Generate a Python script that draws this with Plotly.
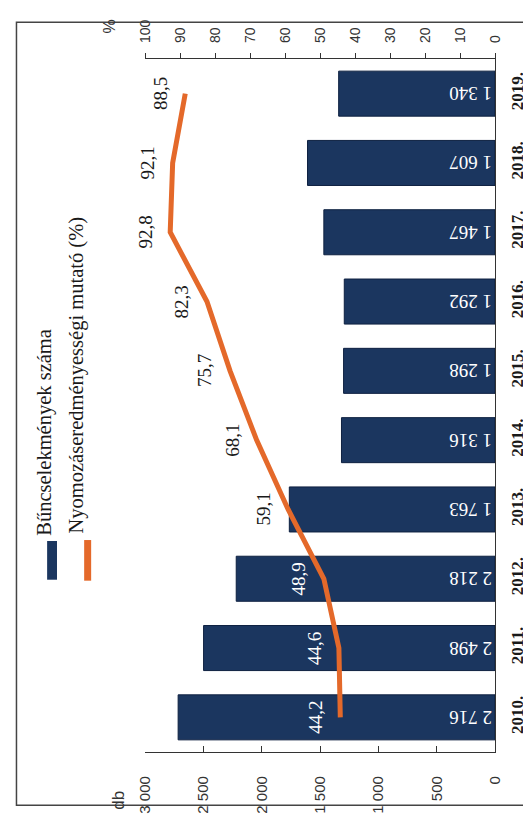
import plotly.graph_objects as go

# data read from the (rotated) scanned chart
years = ["2010.", "2011.", "2012.", "2013.", "2014.", "2015.", "2016.", "2017.", "2018.", "2019."]
crimes = [2716, 2498, 2218, 1763, 1316, 1298, 1292, 1467, 1607, 1340]
clearance = [44.2, 44.6, 48.9, 59.1, 68.1, 75.7, 82.3, 92.8, 92.1, 88.5]

db_ticks = [0, 500, 1000, 1500, 2000, 2500, 3000]
pct_ticks = [0, 10, 20, 30, 40, 50, 60, 70, 80, 90, 100]

NAVY = "#1b365f"
ORANGE = "#e4692a"
INK = "#1a1a1a"
SERIF = "Liberation Serif, Times New Roman, serif"
SANS = "Liberation Sans, Arial, sans-serif"

W, H = 531, 818
OFF = 8  # page body margin shifts the figure by 8px
L, R, T, B = 145 - OFF, 499 - OFF, 42 - OFF, 758 - OFF  # plot area in figure pixels


def px(x):
    return (x - OFF - L) / (R - L)


def py(y):
    return (B - (y - OFF)) / (B - T)


def fmt(v):
    return f"{v:,}".replace(",", "\u00a0")


fig = go.Figure()

fig.add_trace(go.Bar(
    y=years, x=crimes, orientation="h",
    marker=dict(color=NAVY, line=dict(color="#0e2040", width=1)),
    text=[fmt(v) for v in crimes],
    textposition="inside", insidetextanchor="start", textangle=180,
    textfont=dict(family=SERIF, size=19, color="white"),
    name="Bűncselekmények száma",
))

fig.add_trace(go.Scatter(
    y=years, x=clearance, xaxis="x2", mode="lines",
    line=dict(color=ORANGE, width=5),
    name="Nyomozáseredményességi mutató (%)",
))

annotations = []
for i, (v, c) in enumerate(zip(clearance, crimes)):
    # labels sitting on a bar are white, the rest black
    on_bar = c / 3000 > v / 100 + 0.04
    # "2010." looks numeric to plotly, so place by category index
    annotations.append(dict(
        x=v * 30, y=i, xref="x", yref="y", text=f"{v:.1f}".replace(".", ","),
        textangle=-90, showarrow=False, xshift=-25,
        font=dict(family=SERIF, size=19, color="white" if on_bar else INK),
    ))

# axis unit labels
annotations.append(dict(x=px(118), y=py(808), xref="paper", yref="paper", text="db",
                        textangle=-90, showarrow=False, xanchor="center", yanchor="middle",
                        font=dict(family=SANS, size=17, color="#333")))
annotations.append(dict(x=px(109), y=py(8), xref="paper", yref="paper", text="%",
                        textangle=-90, showarrow=False, xanchor="center", yanchor="middle",
                        font=dict(family=SANS, size=16, color="#333")))

# legend, drawn rotated like the rest of the page
annotations.append(dict(x=px(43), y=py(537), xref="paper", yref="paper",
                        text="Bűncselekmények száma", textangle=-90, showarrow=False,
                        xanchor="center", yanchor="bottom",
                        font=dict(family=SERIF, size=20.5, color=INK)))
annotations.append(dict(x=px(76), y=py(534), xref="paper", yref="paper",
                        text="Nyomozáseredményességi mutató (%)", textangle=-90, showarrow=False,
                        xanchor="center", yanchor="bottom",
                        font=dict(family=SERIF, size=20.5, color=INK)))

shapes = [
    dict(type="rect", xref="paper", yref="paper", x0=px(46), x1=px(56), y0=py(580), y1=py(540),
         fillcolor=NAVY, line=dict(width=0)),
    dict(type="line", xref="paper", yref="paper", x0=px(87), x1=px(87), y0=py(581), y1=py(539),
         line=dict(color=ORANGE, width=7)),
    # page frame
    dict(type="rect", xref="paper", yref="paper", x0=px(15), x1=px(560), y0=py(813), y1=py(4),
         line=dict(color="#444", width=1.5)),
]

fig.update_layout(
    width=W, height=H,
    margin=dict(l=L, r=W - R, t=T, b=H - B, pad=0),
    plot_bgcolor="white", paper_bgcolor="white",
    showlegend=False, bargap=0.35,
    annotations=annotations, shapes=shapes,
    xaxis=dict(
        range=[3000, 0], tickvals=db_ticks, ticktext=[fmt(v) for v in db_ticks],
        tickangle=-90, ticks="inside", ticklen=6, tickcolor="#333",
        showline=True, linecolor="#333", linewidth=1.2, showgrid=False, zeroline=False,
        tickfont=dict(family=SANS, size=15, color="#333"), ticklabelstandoff=17,
    ),
    xaxis2=dict(
        range=[100, 0], overlaying="x", side="top", tickvals=pct_ticks,
        tickangle=-90, ticks="outside", ticklen=5, tickcolor="#333",
        showline=True, linecolor="#333", linewidth=1.2, showgrid=False, zeroline=False,
        tickfont=dict(family=SANS, size=14, color="#333"), ticklabelstandoff=7,
    ),
    yaxis=dict(
        type="category", range=[-0.5, 9.5], side="right",
        showline=True, linecolor="#333", linewidth=1.2, ticks="",
        tickangle=-90, ticklabelstandoff=6,
        tickfont=dict(family=SERIF, size=17, color=INK, weight="bold"),
    ),
)

fig.write_html("out.html")
